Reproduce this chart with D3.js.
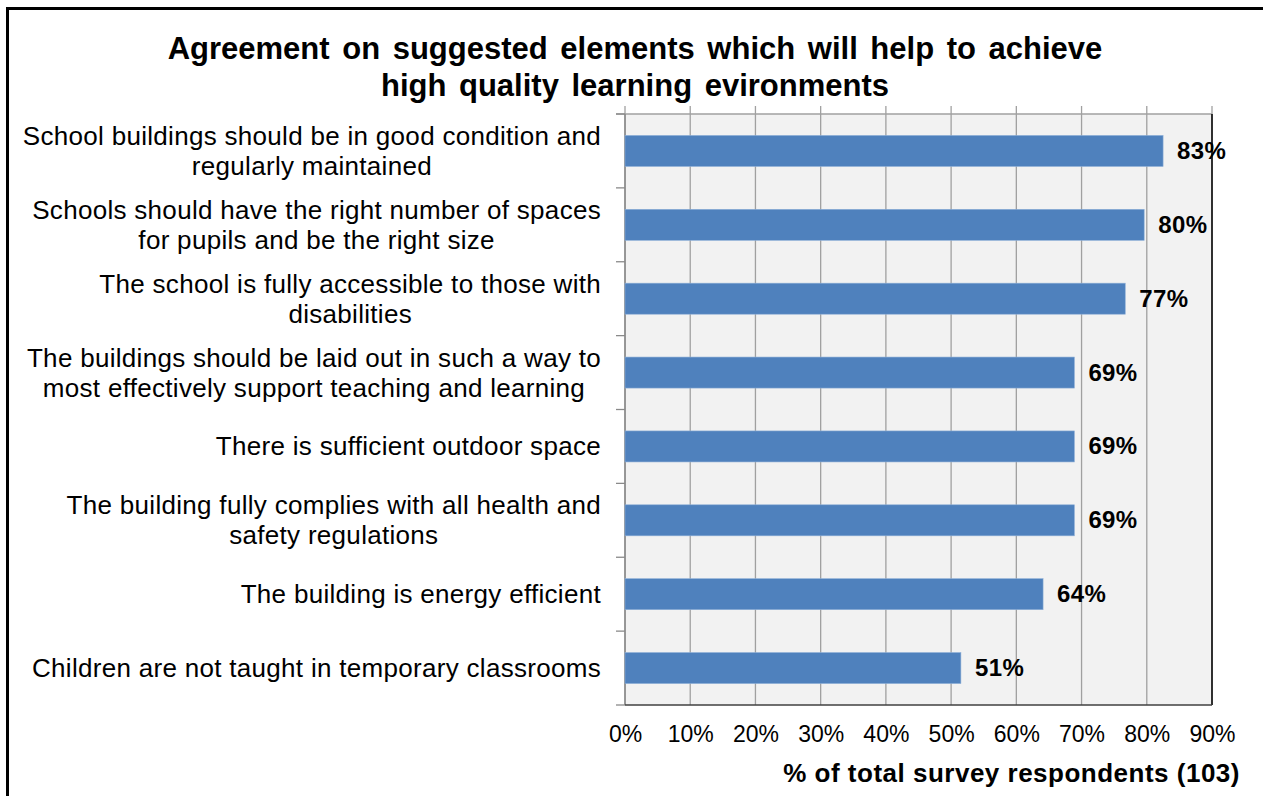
<!DOCTYPE html>
<html>
<head>
<meta charset="utf-8">
<script src="https://cdn.jsdelivr.net/npm/d3@7"></script>
<style>
  body { margin: 0; background: #fff; }
  text { font-family: "Liberation Sans", Arial, sans-serif; fill: #000; }
</style>
</head>
<body>
<div id="canva"></div>
<script>
// data (percent of 103 respondents)
const categories = [
  "School buildings should be in good condition and\nregularly maintained",
  "Schools should have the right number of spaces\nfor pupils and be the right size",
  "The school is fully accessible to those with\ndisabilities",
  "The buildings should be laid out in such a way to\nmost effectively support teaching and learning",
  "There is sufficient outdoor space",
  "The building fully complies with all health and\nsafety regulations",
  "The building is energy efficient",
  "Children are not taught in temporary classrooms"
];
const values = [82.5, 79.6, 76.7, 68.9, 68.9, 68.9, 64.1, 51.5];
const valueLabels = ["83%", "80%", "77%", "69%", "69%", "69%", "64%", "51%"];
const xTicks = [0, 10, 20, 30, 40, 50, 60, 70, 80, 90];
const titleLines = [
  "Agreement on suggested elements which will help to achieve",
  "high quality learning evironments"
];
const axisTitle = "% of total survey respondents (103)";

const width = 1263, height = 796;
const margin = { top: 114, right: 51, bottom: 91, left: 625 };
const iwidth = width - margin.left - margin.right;
const iheight = height - margin.top - margin.bottom;

const svg = d3.select("#canva").append("svg")
  .attr("width", width)
  .attr("height", height);

// outer frame (only top and left visible)
svg.append("path")
  .attr("d", `M7.5,${height} V8.5 H${width}`)
  .attr("fill", "none")
  .attr("stroke", "#000")
  .attr("stroke-width", 3);

const title = svg.append("text")
  .attr("text-anchor", "middle")
  .style("font-weight", "bold")
  .style("font-size", "31px")
  .style("word-spacing", "4px");
titleLines.forEach((t, i) => {
  title.append("tspan").attr("x", 635).attr("y", 59 + i * 37).text(t);
});

const g = svg.append("g")
  .attr("transform", `translate(${margin.left},${margin.top})`);

const x = d3.scaleLinear().domain([0, 90]).range([0, iwidth]);
const y = d3.scaleBand()
  .domain(categories)
  .range([0, iheight])
  .paddingInner(0.58)
  .paddingOuter(0.29);

// plot background
g.append("rect")
  .attr("width", iwidth)
  .attr("height", iheight)
  .attr("fill", "#f2f2f2");

// vertical gridlines, poking above the plot like tick marks
g.selectAll(".grid")
  .data(xTicks)
  .enter()
  .append("line")
  .attr("class", "grid")
  .attr("x1", (d) => x(d))
  .attr("x2", (d) => x(d))
  .attr("y1", -8)
  .attr("y2", iheight)
  .attr("stroke", "#a0a0a0")
  .attr("stroke-width", 1.3);

// top line + category tick marks on the left
const step = y.step();
const bounds = d3.range(categories.length + 1).map((i) => i * step);
g.append("line")
  .attr("x1", -9).attr("x2", iwidth)
  .attr("y1", 0).attr("y2", 0)
  .attr("stroke", "#a0a0a0").attr("stroke-width", 1.3);
g.selectAll(".ytick")
  .data(bounds)
  .enter()
  .append("line")
  .attr("class", "ytick")
  .attr("x1", -9).attr("x2", 0)
  .attr("y1", (d) => d).attr("y2", (d) => d)
  .attr("stroke", "#8a8a8a").attr("stroke-width", 1.3);
g.append("line")
  .attr("x1", 0).attr("x2", 0)
  .attr("y1", 0).attr("y2", iheight)
  .attr("stroke", "#8a8a8a").attr("stroke-width", 1.5);

// bars
g.selectAll(".bar")
  .data(values)
  .enter()
  .append("rect")
  .attr("class", "bar")
  .attr("x", 0)
  .attr("y", (d, i) => y(categories[i]))
  .attr("width", (d) => x(d))
  .attr("height", y.bandwidth())
  .attr("fill", "#4f81bd")
  .attr("stroke", "#8fb0d8")
  .attr("stroke-width", 0.6);

// value labels
g.selectAll(".vlabel")
  .data(values)
  .enter()
  .append("text")
  .attr("class", "vlabel")
  .attr("x", (d) => x(d) + 14)
  .attr("y", (d, i) => y(categories[i]) + y.bandwidth() / 2 + 8)
  .style("font-weight", "bold")
  .style("font-size", "24px")
  .style("letter-spacing", "0.4px")
  .text((d, i) => valueLabels[i]);

// right and bottom frame of the plot
g.append("line")
  .attr("x1", iwidth).attr("x2", iwidth)
  .attr("y1", 0).attr("y2", iheight)
  .attr("stroke", "#000").attr("stroke-width", 1.5);
g.append("line")
  .attr("x1", 0).attr("x2", iwidth)
  .attr("y1", iheight).attr("y2", iheight)
  .attr("stroke", "#404040").attr("stroke-width", 1.5);

// x axis labels
const xAxis = g.append("g")
  .attr("transform", `translate(0, ${iheight})`)
  .call(d3.axisBottom(x).tickValues(xTicks).tickFormat((d) => d + "%").tickSize(0).tickPadding(21));
xAxis.select(".domain").remove();
xAxis.selectAll("text")
  .style("font-family", '"Liberation Sans", Arial, sans-serif')
  .style("font-size", "23px")
  .attr("fill", "#000");

// category labels: block right-aligned to the axis, lines centred inside it
const ylab = g.selectAll(".ylabel")
  .data(categories)
  .enter()
  .append("text")
  .attr("class", "ylabel")
  .attr("text-anchor", "middle")
  .style("font-size", "26px")
  .style("letter-spacing", "0.3px");
ylab.each(function (d) {
  const lines = d.split("\n");
  const cy = y(d) + y.bandwidth() / 2;
  const t0 = cy - ((lines.length - 1) * 30) / 2 + 9;
  const spans = lines.map((ln, j) =>
    d3.select(this).append("tspan")
      .attr("y", t0 + j * 30)
      .text(ln)
  );
  const maxW = d3.max(spans, (s) => s.node().getComputedTextLength());
  spans.forEach((s) => s.attr("x", -24 - maxW / 2));
});

// axis title
svg.append("text")
  .attr("x", 1240)
  .attr("y", 782)
  .attr("text-anchor", "end")
  .style("font-weight", "bold")
  .style("font-size", "26px")
  .style("letter-spacing", "0.5px")
  .text(axisTitle);
</script>
</body>
</html>
